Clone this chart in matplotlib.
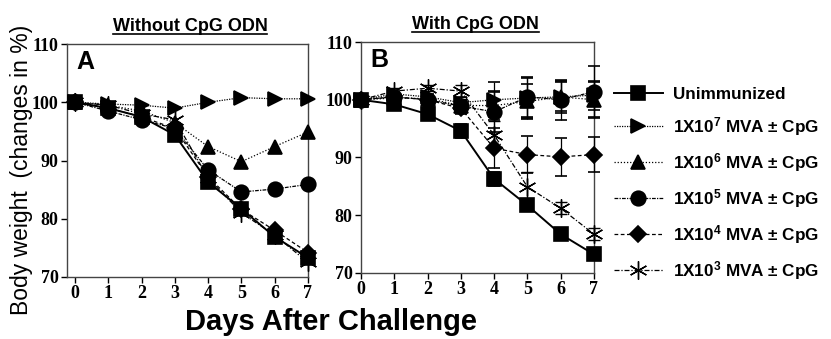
import matplotlib
matplotlib.use("Agg")
from matplotlib import pyplot as plt
from matplotlib.lines import Line2D
import numpy as np

plt.rcParams['font.family'] = ['Liberation Sans', 'DejaVu Sans']
plt.rcParams['mathtext.default'] = 'regular'

days = [0, 1, 2, 3, 4, 5, 6, 7]
labels = ['Unimmunized', '1X10$^{7}$ MVA ± CpG', '1X10$^{6}$ MVA ± CpG',
          '1X10$^{5}$ MVA ± CpG', '1X10$^{4}$ MVA ± CpG', '1X10$^{3}$ MVA ± CpG']

# panel A: without CpG ODN
a_unimm = [100, 99.0, 97.5, 94.4, 86.3, 81.7, 76.9, 73.3]
a_e7 = [100, 99.7, 99.5, 99.0, 100.0, 100.8, 100.6, 100.6]
a_e6 = [100, 99.5, 98.5, 96.5, 92.4, 89.8, 92.4, 94.9]
a_e5 = [100, 98.5, 97.0, 95.5, 88.4, 84.6, 85.1, 85.9]
a_e4 = [100, 99.0, 97.5, 95.5, 87.2, 81.6, 78.0, 74.2]
a_e3 = [100, 99.5, 98.0, 97.0, 87.0, 81.0, 77.2, 72.5]

# panel B: with CpG ODN
b_unimm = [100, 99.2, 97.5, 94.6, 86.3, 81.7, 76.7, 73.2]
b_e7 = [100, 101.0, 100.5, 99.5, 100.0, 100.3, 100.5, 100.8]
b_e6 = [100, 100.3, 100.2, 99.0, 99.0, 99.7, 100.5, 100.0]
b_e5 = [100, 100.5, 100.0, 98.9, 97.9, 100.5, 100.0, 101.4]
b_e4 = [100, 100.5, 100.0, 98.5, 91.6, 90.5, 90.1, 90.5]
b_e3 = [100, 101.5, 102.0, 101.5, 93.9, 84.9, 81.2, 76.7]

b_unimm_err = [0, 0.3, 0.3, 1.2, 1.2, 0.5, 0.5, 0.5]
b_e7_err = [0, 0.5, 0.5, 1.0, 3.0, 3.5, 2.8, 2.5]
b_e6_err = [0, 0.5, 0.5, 1.0, 2.5, 3.0, 2.5, 3.0]
b_e5_err = [0, 0.5, 0.5, 1.0, 3.5, 3.5, 3.5, 4.5]
b_e4_err = [0, 0.5, 0.5, 1.0, 3.5, 3.2, 3.3, 3.0]
b_e3_err = [0, 0.5, 0.5, 1.0, 2.5, 2.5, 1.0, 1.0]

markers = ['s', '>', '^', 'o', 'D', (6, 2, 0)]
msizes = [10.5, 10.5, 10.5, 10.5, 8.5, 13]
styles = ['-', (0, (1, 1)), (0, (1, 1.5)), (0, (3, 1, 1, 1)), (0, (3, 2)), (0, (4, 1.5, 1, 1.5))]
widths = [1.4, 0.9, 0.9, 0.9, 0.9, 0.9]
mews = [1.2, 1.2, 1.2, 1.2, 1.2, 1.0]

fig = plt.figure(figsize=(8.31, 3.39), dpi=100)
axA = fig.add_axes([0.0806, 0.183, 0.290, 0.687])
axB = fig.add_axes([0.4344, 0.195, 0.2804, 0.681])

A = [a_unimm, a_e7, a_e6, a_e5, a_e4, a_e3]
B = [b_unimm, b_e7, b_e6, b_e5, b_e4, b_e3]
Berr = [b_unimm_err, b_e7_err, b_e6_err, b_e5_err, b_e4_err, b_e3_err]

# draw in reverse so the unimmunized squares are on top
for i in reversed(range(6)):
    axA.plot(days, A[i], color='black', linestyle=styles[i], lw=widths[i],
             marker=markers[i], ms=msizes[i], mew=mews[i], clip_on=False, zorder=3 + i * 0.1)
    axB.errorbar(days, B[i], yerr=Berr[i], color='black', linestyle=styles[i], lw=widths[i],
                 marker=markers[i], ms=msizes[i], mew=mews[i], capsize=4, elinewidth=0.9,
                 capthick=0.9, clip_on=False, zorder=3 + i * 0.1)

for ax, xmin, letter in [(axA, -0.24, 'A'), (axB, 0, 'B')]:
    ax.set_xlim(xmin, 7)
    ax.set_ylim(70, 110)
    ax.set_xticks(days)
    ax.set_yticks([70, 80, 90, 100, 110])
    for s in ax.spines.values():
        s.set_linewidth(1.0)
        s.set_color('#444444')
    ax.tick_params(direction='out', length=4, width=1, pad=2)
    for lab in ax.get_xticklabels() + ax.get_yticklabels():
        lab.set_fontfamily('Liberation Serif')
        lab.set_fontweight('bold')
        lab.set_fontsize(13)
    ax.text(0.04, 0.975, letter, transform=ax.transAxes, fontsize=18, fontweight='bold',
            va='top', ha='left')

# titles with underline
titles = []
titles.append(fig.text(0.2286, 0.897, 'Without CpG ODN', ha='center', va='bottom',
                       fontsize=13, fontweight='bold'))
titles.append(fig.text(0.572, 0.902, 'With CpG ODN', ha='center', va='bottom',
                       fontsize=13, fontweight='bold'))
fig.canvas.draw()
inv = fig.transFigure.inverted()
for t in titles:
    bb = t.get_window_extent()
    (x0, y0), (x1, y1) = inv.transform([(bb.x0, bb.y0), (bb.x1, bb.y1)])
    fig.add_artist(Line2D([x0, x1], [y0 + 0.004, y0 + 0.004], transform=fig.transFigure,
                          color='black', lw=1.2))

fig.text(0.026, 0.5, 'Body weight  (changes in %)', rotation=90, ha='center', va='center',
         fontsize=16.5)
fig.text(0.398, 0.05, 'Days After Challenge', ha='center', va='center',
         fontsize=21, fontweight='bold')

handles = [Line2D([0], [0], color='black', linestyle=styles[i], lw=widths[i],
                  marker=markers[i], ms=msizes[i], mew=mews[i]) for i in range(6)]
fig.legend(handles, labels, loc='upper left', bbox_to_anchor=(0.728, 0.77),
           frameon=False, handlelength=2.9, handletextpad=0.6, labelspacing=0.77,
           borderpad=0, prop={'weight': 'bold', 'size': 12.3})

fig.savefig('out.png', dpi=100)
